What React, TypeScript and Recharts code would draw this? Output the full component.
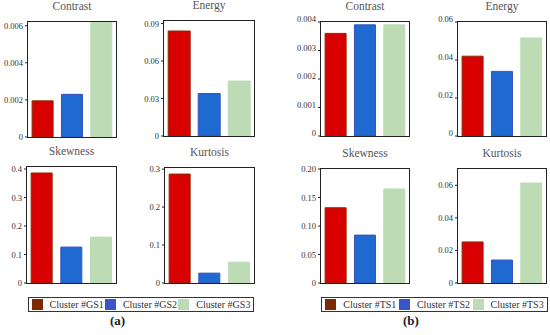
import React from 'react';
import { BarChart, Bar, XAxis, YAxis, Cell } from 'recharts';

// cluster names
const gsClusters = ['Cluster #GS1', 'Cluster #GS2', 'Cluster #GS3'];
const tsClusters = ['Cluster #TS1', 'Cluster #TS2', 'Cluster #TS3'];

// (a) values per feature
const gsContrast = [0.00195, 0.0023, 0.0062];
const gsEnergy = [0.084, 0.034, 0.044];
const gsSkewness = [0.386, 0.126, 0.161];
const gsKurtosis = [0.287, 0.026, 0.055];

// (b) values per feature
const tsContrast = [0.0036, 0.0039, 0.0039];
const tsEnergy = [0.042, 0.034, 0.0516];
const tsSkewness = [0.132, 0.084, 0.165];
const tsKurtosis = [0.0252, 0.0141, 0.0614];

// y ticks
const gsContrastTicks = [0, 0.002, 0.004, 0.006];
const gsContrastLabels = ['0', '0.002', '0.004', '0.006'];
const gsEnergyTicks = [0, 0.03, 0.06, 0.09];
const gsEnergyLabels = ['0', '0.03', '0.06', '0.09'];
const gsSkewTicks = [0, 0.1, 0.2, 0.3, 0.4];
const gsSkewLabels = ['0', '0.1', '0.2', '0.3', '0.4'];
const gsKurtTicks = [0, 0.1, 0.2, 0.3];
const gsKurtLabels = ['0', '0.1', '0.2', '0.3'];
const tsContrastTicks = [0, 0.001, 0.002, 0.003, 0.004];
const tsContrastLabels = ['0', '0.001', '0.002', '0.003', '0.004'];
const tsEnergyTicks = [0, 0.02, 0.04, 0.06];
const tsEnergyLabels = ['0', '0.02', '0.04', '0.06'];
const tsSkewTicks = [0, 0.05, 0.1, 0.15, 0.2];
const tsSkewLabels = ['0', '0.05', '0.10', '0.15', '0.20'];
const tsKurtTicks = [0, 0.02, 0.04, 0.06];
const tsKurtLabels = ['0', '0.02', '0.04', '0.06'];

const barColors = ['#d80000', '#1f6ad0', '#bddcb6'];
const barStrokes = ['#8a2a00', '#3a4fc0', '#bddcb6'];
const swatchColors = ['#7e2a00', '#3a55c8', '#bddcb6'];

const FONT = '"Liberation Serif", "DejaVu Serif", serif';
const YW = 34;
const MT = 8;
const MB = 8;

interface PanelProps {
  title: string;
  x: number;
  y: number;
  w: number;
  h: number;
  names: string[];
  values: number[];
  max: number;
  ticks: number[];
  labels: string[];
  labelDy?: number;
}

const Panel: React.FC<PanelProps> = ({ title, x, y, w, h, names, values, max, ticks, labels, labelDy = 0 }) => {
  const data = names.map((n, i) => ({ name: n, value: values[i] }));
  const fmt = (v: number) => {
    const i = ticks.findIndex((t) => Math.abs(t - v) < 1e-9);
    return i >= 0 ? labels[i] : '';
  };
  return (
    <>
      <div
        style={{
          position: 'absolute', left: x, top: y - 22, width: w, textAlign: 'center',
          fontFamily: FONT, fontSize: 11.5, color: '#555', whiteSpace: 'nowrap',
        }}
      >
        {title}
      </div>
      <div style={{ position: 'absolute', left: x - YW, top: y - MT }}>
        <BarChart
          width={w + YW + 4}
          height={h + MT + MB + 1}
          data={data}
          margin={{ top: MT, right: 4, left: 0, bottom: MB }}
          barCategoryGap="14%"
        >
          <XAxis dataKey="name" height={1} tick={false} tickLine={false} axisLine={false} />
          <YAxis
            width={YW}
            domain={[0, max]}
            allowDataOverflow
            ticks={ticks}
            interval={0}
            tickFormatter={fmt}
            tickSize={3}
            tickLine={{ stroke: '#222' }}
            axisLine={false}
            tick={{ fontSize: 8.5, fill: '#333', fontFamily: FONT, dy: labelDy }}
          />
          <Bar dataKey="value" isAnimationActive={false}>
            {data.map((_, i) => (
              <Cell key={i} fill={barColors[i]} stroke={barStrokes[i]} strokeWidth={1} />
            ))}
          </Bar>
        </BarChart>
      </div>
      <div
        style={{
          position: 'absolute', left: x - 1, top: y - 1, width: w + 2, height: h + 2,
          border: '1px solid #222', boxSizing: 'border-box', pointerEvents: 'none',
        }}
      />
    </>
  );
};

const LegendBox: React.FC<{ x: number; y: number; w: number; names: string[]; caption: string; capX: number }> = ({ x, y, w, names, caption, capX }) => (
  <>
    <div
      style={{
        position: 'absolute', left: x, top: y, width: w, height: 15, border: '1px solid #333',
        boxSizing: 'border-box', display: 'flex', alignItems: 'center', justifyContent: 'space-around',
        fontFamily: FONT, fontSize: 10, color: '#333', paddingLeft: 2, paddingRight: 2,
      }}
    >
      {names.map((n, i) => (
        <div key={n} style={{ display: 'flex', alignItems: 'center', whiteSpace: 'nowrap' }}>
          <span style={{ display: 'inline-block', width: 11, height: 11, background: swatchColors[i], marginRight: 7 }} />
          {n}
        </div>
      ))}
    </div>
    <div
      style={{
        position: 'absolute', left: capX, top: y + 16, fontFamily: FONT, fontSize: 13, color: '#222', fontWeight: 'bold',
      }}
    >
      ({caption})
    </div>
  </>
);

export default function App() {
  return (
    <div style={{ position: 'absolute', left: 0, top: 0, width: 550, height: 335, background: '#fff', overflow: 'hidden' }}>
      <Panel title="Contrast" x={28} y={22} w={88} h={115} names={gsClusters} values={gsContrast} max={0.0062} ticks={gsContrastTicks} labels={gsContrastLabels} />
      <Panel title="Energy" x={164} y={21} w={90} h={115} names={gsClusters} values={gsEnergy} max={0.092} ticks={gsEnergyTicks} labels={gsEnergyLabels} />
      <Panel title="Skewness" x={27} y={167} w={89} h={116} names={gsClusters} values={gsSkewness} max={0.407} ticks={gsSkewTicks} labels={gsSkewLabels} />
      <Panel title="Kurtosis" x={165} y={168} w={89} h={115} names={gsClusters} values={gsKurtosis} max={0.303} ticks={gsKurtTicks} labels={gsKurtLabels} />

      <Panel title="Contrast" x={321} y={22} w={88} h={114} names={tsClusters} values={tsContrast} max={0.004} ticks={tsContrastTicks} labels={tsContrastLabels} labelDy={-3} />
      <Panel title="Energy" x={458} y={22} w={88} h={114} names={tsClusters} values={tsEnergy} max={0.06} ticks={tsEnergyTicks} labels={tsEnergyLabels} labelDy={-3} />
      <Panel title="Skewness" x={321} y={169} w={88} h={114} names={tsClusters} values={tsSkewness} max={0.2} ticks={tsSkewTicks} labels={tsSkewLabels} />
      <Panel title="Kurtosis" x={458} y={169} w={88} h={114} names={tsClusters} values={tsKurtosis} max={0.07} ticks={tsKurtTicks} labels={tsKurtLabels} />

      <LegendBox x={28} y={297} w={226} names={gsClusters} caption="a" capX={110} />
      <LegendBox x={321} y={297} w={227} names={tsClusters} caption="b" capX={403} />
    </div>
  );
}
